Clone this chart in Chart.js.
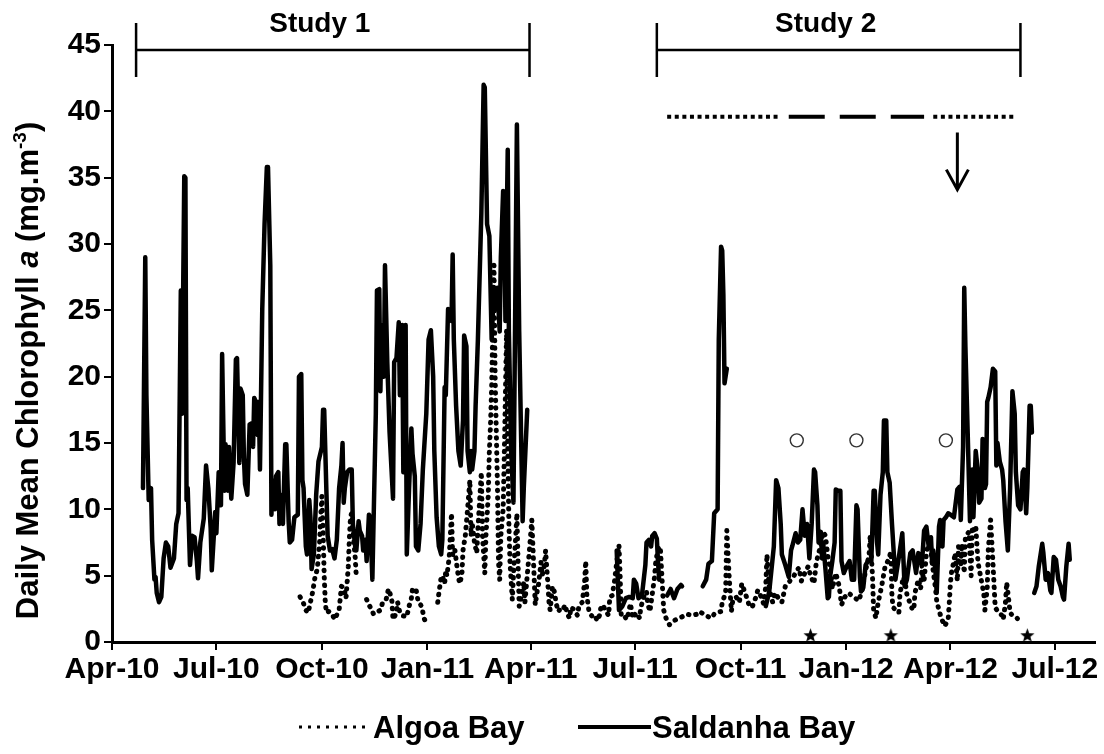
<!DOCTYPE html>
<html>
<head>
<meta charset="utf-8">
<title>Daily mean chlorophyll a - Algoa Bay and Saldanha Bay</title>
<script src="https://cdn.jsdelivr.net/npm/chart.js@4.4.1/dist/chart.umd.min.js"></script>
<style>
  html, body { margin: 0; padding: 0; background: #fff; }
  canvas { display: block; }
</style>
</head>
<body>
<canvas id="chl" width="1104" height="754"></canvas>
<script>
// x values are days since 1 Apr 2010
var tickDates = ['2010-04-01', '2010-07-01', '2010-10-01', '2011-01-01', '2011-04-01',
                 '2011-07-01', '2011-10-01', '2012-01-01', '2012-04-01', '2012-07-01'];
var tickLabels = ['Apr-10', 'Jul-10', 'Oct-10', 'Jan-11', 'Apr-11',
                  'Jul-11', 'Oct-11', 'Jan-12', 'Apr-12', 'Jul-12'];
var axisEndDate = '2012-08-05';

// Saldanha Bay, [day, chl a]
var saldanhaStudy1 = [
  [27,11.6],[29,29.0],[30,18.6],[32,10.7],[34,11.6],[35,7.7],[37,4.7],[38,4.9],[39,3.7],[41,3.0],
  [43,3.4],[45,6.3],[47,7.5],[49,7.2],[51,5.6],[54,6.3],[56,8.9],[58,9.7],[60,26.5],[61,17.2],
  [63,35.1],[64,35.0],[65,10.7],[66,11.6],[68,5.8],[70,8.0],[72,7.9],[74,6.1],[75,4.8],[77,7.5],
  [80,9.3],[82,13.3],[84,11.6],[86,8.6],[87,5.4],[90,9.8],[91,8.2],[93,12.8],[95,10.3],[96,21.7],
  [98,11.4],[99,14.9],[101,11.4],[102,14.7],[104,10.8],[106,13.5],[108,21.3],[109,21.4],[111,13.5],[112,19.1],
  [114,18.6],[115,13.9],[116,11.9],[118,11.1],[120,16.4],[122,16.5],[123,14.7],[124,18.4],[125,18.2],[127,15.6],
  [128,18.1],[129,13.0],[131,25.1],[133,31.5],[135,35.8],[136,35.8],[138,28.4],[139,9.6],[140,12.2],[142,10.0],
  [143,12.5],[145,12.8],[146,8.9],[148,11.1],[149,8.9],[151,14.9],[152,14.9],[154,9.1],[155,7.5],[157,7.7],
  [159,9.4],[162,9.6],[163,20.0],[165,20.2],[166,12.2],[167,11.6],[169,7.2],[170,6.6],[172,10.7],[173,9.4],
  [174,5.5],[176,6.6],[178,11.1],[180,13.6],[183,14.7],[184,17.5],[185,17.5],[187,11.1],[188,8.0],[190,6.9],
  [192,7.0],[194,6.3],[196,7.7],[198,11.6],[200,13.3],[201,15.0],[202,10.5],[203,11.6],[205,12.8],[207,13.0],
  [209,13.0],[210,8.9],[212,7.2],[213,6.9],[215,9.1],[216,8.4],[218,8.0],[219,6.9],[221,7.7],[222,6.1],
  [224,9.6],[225,9.4],[227,4.7],[230,17.2],[231,26.5],[233,26.6],[234,18.9],[235,23.9],[237,20.0],[238,28.4],
  [240,21.1],[242,15.8],[245,10.8],[246,21.1],[248,21.4],[250,24.1],[251,18.6],[253,23.9],[254,12.8],[256,23.9],
  [257,6.6],[259,11.6],[261,16.1],[262,14.2],[264,12.5],[265,7.2],[267,6.9],[269,8.9],[271,13.0],[274,17.2],
  [276,22.8],[278,23.5],[280,20.0],[281,14.4],[283,9.4],[285,7.2],[287,6.6],[288,7.7],[290,19.2],[291,18.6],
  [293,25.1],[294,24.5],[296,24.2],[297,29.2],[298,22.8],[300,17.8],[302,14.4],[304,13.3],[306,16.7],[307,23.1],
  [309,22.3],[310,14.4],[312,12.8],[313,14.4],[314,13.0],[316,14.4],[317,17.8],[319,22.8],[322,32.3],[324,42.0],
  [325,41.8],[327,31.5],[329,30.6],[331,22.8],[333,26.7],[335,25.1],[336,26.7],[338,23.4],[339,29.0],[341,34.0],
  [342,32.6],[343,24.2],[345,37.1],[346,23.4],[348,14.4],[350,10.5],[353,39.0],[355,23.4],[358,9.1],[359,11.6],
  [362,17.5]
];
var saldanhaJun11 = [
  [440,6.9],[442,2.4],[445,2.7],[448,3.3],[451,3.4],[454,3.3],[455,4.7],[457,4.4],[459,3.3],[462,3.5],
  [465,5.8],[466,7.5],[468,7.7],[470,7.2],[471,8.0],[473,8.2],[475,7.8],[476,6.1],[477,4.7]
];
var saldanhaAug11 = [[484,3.5],[487,4.0],[490,3.3],[493,4.0],[496,4.3],[497,4.2]];
var saldanhaSep11 = [
  [515,4.2],[518,4.7],[520,5.9],[523,6.1],[525,9.7],[528,10.0],[529,22.8],[531,29.8],[532,29.5],[533,26.2],
  [534,19.5],[536,20.6]
];
var saldanhaStudy2 = [
  [570,2.7],[573,3.8],[577,7.2],[579,12.2],[581,11.6],[583,8.9],[584,6.6],[587,5.8],[590,4.9],[592,6.9],
  [593,7.2],[596,8.2],[598,7.5],[600,7.7],[602,10.0],[604,8.0],[606,8.9],[608,6.3],[610,8.9],[612,13.0],
  [613,12.8],[615,10.3],[616,7.5],[618,8.3],[619,6.3],[620,7.5],[622,5.5],[624,3.3],[625,3.4],[626,4.9],
  [628,6.1],[630,7.5],[631,11.5],[633,11.4],[635,11.4],[636,6.1],[638,5.2],[641,5.8],[643,6.1],[645,4.7],
  [647,4.7],[649,10.3],[650,10.0],[652,4.9],[653,3.8],[655,4.1],[657,5.8],[659,6.1],[662,6.1],[664,11.4],
  [665,11.4],[667,7.5],[668,6.6],[670,11.1],[672,12.8],[673,16.7],[675,16.7],[676,12.8],[678,12.0],[680,8.9],
  [683,4.7],[686,6.4],[689,8.2],[691,4.2],[693,4.7],[696,6.7],[698,6.9],[701,5.2],[703,6.7],[705,6.4],
  [706,5.7],[708,8.4],[710,8.7],[712,7.2],[714,7.9],[715,5.9],[716,6.9],[718,5.2],[719,3.7],[721,8.7],
  [722,9.2],[724,7.2],[725,9.2],[727,9.4],[729,9.7],[731,9.6],[734,9.4],[737,11.5],[739,11.7],[740,9.2],
  [742,14.7],[743,26.7],[744,22.3],[746,15.8],[748,9.1],[750,13.0],[751,9.4],[753,14.4],[755,12.8],[756,10.5],
  [758,10.8],[759,15.3],[761,11.6],[762,11.9],[763,18.1],[764,18.4],[766,19.2],[768,20.6],[770,20.4],[771,13.3],
  [772,15.0],[774,13.6],[776,13.0],[777,12.2],[779,9.1],[781,6.9],[783,11.6],[785,18.9],[787,17.2],[788,12.8],
  [790,10.3],[792,10.0],[794,12.8],[795,13.0],[797,9.7],[798,11.6],[800,17.8],[801,17.8],[802,15.8]
];
var saldanhaJun12 = [
  [804,3.7],[806,4.2],[808,5.7],[811,7.4],[812,6.7],[814,4.7],[816,5.2],[818,3.9],[819,3.7],[821,6.4],
  [823,6.2],[825,4.7],[827,4.2],[829,3.4],[830,3.2],[832,5.7],[834,7.4],[835,6.2]
];

// Algoa Bay, [day, chl a]
var algoaSep10 = [
  [164,3.4],[165,3.2],[167,2.9],[169,2.4],[171,2.2],[173,3.0],[175,3.8],[177,4.9],[179,5.5],[181,7.5],
  [182,9.5],[183,11.0],[184,8.5],[185,5.0],[186,2.9],[187,2.2],[189,2.3],[192,2.1],[194,1.7],[198,2.4],
  [199,3.3],[200,4.2],[202,4.1],[204,3.3],[205,4.5],[206,5.7],[207,7.9],[208,9.5],[209,9.7],[210,8.4],
  [212,6.4],[213,4.9]
];
var algoaNov10 = [
  [222,3.2],[224,2.8],[226,2.5],[228,2.1],[230,2.2],[232,2.3],[234,2.4],[236,3.0],[239,3.2],[241,4.0],
  [242,3.8],[244,3.1],[245,1.7],[248,2.2],[249,3.0],[251,2.2],[253,2.0],[257,1.9],[259,2.7],[261,3.3],
  [262,4.0],[265,4.0],[266,3.5],[267,3.0],[270,2.7],[272,1.8],[273,1.6]
];
var algoaJan11 = [
  [284,3.0],[285,3.7],[287,4.9],[288,5.0],[290,4.4],[291,5.4],[292,5.0],[294,6.4],[296,9.7],[297,6.5],
  [299,6.9],[301,5.5],[303,4.4],[305,5.0],[306,6.9],[308,8.0],[310,10.0],[312,12.2],[313,8.0],[314,9.0],
  [316,7.5],[318,6.7],[319,8.5],[322,12.8],[323,8.0],[325,5.2],[326,8.0],[328,11.0],[329,14.4],[330,16.4],
  [331,19.2],[333,28.4],[334,20.0],[336,12.0],[337,6.0],[338,4.7],[339,8.0],[341,10.0],[342,14.0],[344,23.5],
  [345,15.0],[346,9.0],[347,6.0],[349,3.2],[350,5.0],[352,8.0],[353,9.7],[354,6.0],[355,2.7],[357,3.5],
  [359,4.5],[360,3.0],[362,5.0],[364,7.0],[366,9.2],[368,5.0],[369,2.8],[371,4.0],[372,4.4],[374,6.0],
  [375,5.0],[377,5.8],[378,6.9],[380,4.4],[381,3.0],[382,2.4],[384,4.2],[386,3.7],[387,3.0],[389,2.3],
  [391,2.5],[393,2.4],[395,2.8],[397,2.1],[399,1.8],[400,2.6],[402,2.5],[404,2.2],[406,2.0],[407,2.7],
  [410,3.0],[412,4.5],[413,6.1],[414,3.5],[416,2.2],[419,1.9],[421,2.0],[423,1.6],[425,2.0],[426,2.5],
  [428,2.8],[430,2.4],[433,2.0],[434,3.4],[436,3.5],[438,4.5],[440,6.0],[442,7.3],[443,5.0],[444,1.9],
  [447,1.9],[449,1.7],[452,2.9],[454,1.8],[457,2.2],[460,1.8],[461,2.6],[464,3.5],[466,3.8],[467,2.9],
  [469,2.3],[471,3.6],[473,4.9],[474,6.0],[476,7.0],[478,7.2],[480,4.0],[481,2.4],[483,1.8],[486,1.3],
  [488,1.5],[492,1.7],[497,1.9],[501,2.1],[506,2.0],[510,2.1],[512,2.3],[518,2.0],[522,1.8],[526,2.2],
  [531,2.3],[532,3.0],[535,3.7],[536,8.4],[538,5.0],[540,2.3],[541,3.0],[544,3.4],[547,3.0],[549,4.4],
  [552,3.7],[555,2.9],[558,2.6],[561,3.3],[563,3.9],[565,3.6],[568,2.9],[570,4.2],[571,6.6],[573,4.0],
  [576,3.0],[578,3.7],[581,3.3],[584,3.0],[587,4.2],[590,4.5],[594,4.9],[597,5.4],[599,5.6],[601,4.6],
  [604,5.2],[607,5.7],[609,5.0],[612,4.4],[614,6.0],[617,7.0],[620,8.3],[622,8.0],[624,6.5],[626,5.5],
  [628,4.0],[631,5.2],[634,4.2],[636,2.8],[639,3.4],[642,3.7],[645,3.5],[648,3.3],[651,3.1],[654,3.9],
  [657,5.4],[660,6.5],[661,8.0],[663,5.0],[664,2.4],[666,1.8],[668,3.0],[671,4.2],[674,5.7],[677,6.2],
  [679,6.8],[680,3.4],[681,2.6],[686,2.2],[687,3.7],[690,4.9],[692,4.2],[693,3.6],[695,3.1],[697,2.6],
  [699,2.4],[700,3.7],[703,4.7],[705,4.0],[706,5.4],[708,4.6],[710,6.7],[713,7.9],[715,6.0],[718,4.0],
  [719,3.1],[721,2.4],[723,1.8],[726,1.2],[729,1.7],[730,3.0],[731,4.5],[732,5.3],[734,6.1],[735,6.7],
  [737,4.6],[738,7.2],[740,5.7],[741,7.4],[743,5.2],[744,7.9],[747,8.3],[749,5.0],[750,8.7],[752,8.2],
  [753,8.8],[755,6.0],[758,4.6],[760,3.7],[761,2.4],[763,4.0],[764,7.0],[766,9.2],[768,6.0],[770,2.6],
  [773,2.2],[776,2.0],[777,1.7],[779,3.0],[780,4.5],[782,3.0],[783,2.2],[786,1.9],[789,1.8],[790,1.7]
];

// study periods and field events
var studyNames = ['Study 1', 'Study 2'];
var studyStarts = ['2010-04-22', '2011-07-20'];
var studyEnds = ['2011-03-31', '2012-06-01'];
var samplingDotted = [['2011-07-29', '2011-11-03'], ['2012-03-17', '2012-05-26']];
var samplingDashed = [['2011-11-12', '2012-03-09']];
var samplingLevel = 39.6;
var arrowDate = '2012-04-07';
var arrowFrom = 38.4;
var arrowTo = 34.1;
var circleDates = ['2011-11-19', '2012-01-10', '2012-03-28'];
var circleLevel = 15.2;
var starDates = ['2011-12-01', '2012-02-09', '2012-06-07'];
var starLevel = 0.55;

var FONT = '"Liberation Sans", Arial, Helvetica, sans-serif';

function toDay(iso) {
  var p = iso.split('-');
  return Math.round((Date.UTC(+p[0], p[1] - 1, +p[2]) - Date.UTC(2010, 3, 1)) / 864e5);
}

// glue segments together with a null point so the line breaks between them
function joinSegments(segs) {
  var out = [];
  segs.forEach(function (seg, i) {
    if (i > 0) {
      out.push({ x: (out[out.length - 1].x + seg[0][0]) / 2, y: null });
    }
    seg.forEach(function (p) { out.push({ x: p[0], y: p[1] }); });
  });
  return out;
}

function levelLine(pair) {
  return [{ x: toDay(pair[0]), y: samplingLevel }, { x: toDay(pair[1]), y: samplingLevel }];
}

function starImage(r) {
  var c = document.createElement('canvas');
  c.width = c.height = Math.ceil(2 * r + 2);
  var g = c.getContext('2d');
  g.fillStyle = '#000';
  g.beginPath();
  for (var i = 0; i < 10; i++) {
    var a = -Math.PI / 2 + i * Math.PI / 5;
    var rr = i % 2 ? r * 0.42 : r;
    g.lineTo(c.width / 2 + rr * Math.cos(a), c.height / 2 + 1 + rr * Math.sin(a));
  }
  g.closePath();
  g.fill();
  return c;
}

var tickDays = tickDates.map(toDay);

var datasets = [
  {
    data: joinSegments([saldanhaStudy1, saldanhaJun11, saldanhaAug11, saldanhaSep11, saldanhaStudy2, saldanhaJun12]),
    borderColor: '#000', borderWidth: 4.5, borderJoinStyle: 'round', borderCapStyle: 'round',
    pointRadius: 0, spanGaps: false
  },
  {
    data: joinSegments([algoaSep10, algoaNov10, algoaJan11]),
    borderColor: '#000', borderWidth: 5, borderDash: [0.5, 7], borderCapStyle: 'round',
    borderJoinStyle: 'round', pointRadius: 0, spanGaps: false
  }
];

samplingDotted.forEach(function (pair) {
  datasets.push({
    data: levelLine(pair), borderColor: '#000', borderWidth: 4,
    borderDash: [4, 3.6], borderCapStyle: 'butt', pointRadius: 0, clip: false
  });
});
samplingDashed.forEach(function (pair) {
  datasets.push({
    data: levelLine(pair), borderColor: '#000', borderWidth: 4,
    borderDash: [36, 15], borderCapStyle: 'butt', pointRadius: 0, clip: false
  });
});

datasets.push({
  data: circleDates.map(function (d) { return { x: toDay(d), y: circleLevel }; }),
  showLine: false, pointStyle: 'circle', pointRadius: 6.5, pointBorderWidth: 1.4,
  pointBorderColor: '#333', pointBackgroundColor: 'rgba(255,255,255,0)', clip: false
});
datasets.push({
  data: starDates.map(function (d) { return { x: toDay(d), y: starLevel }; }),
  showLine: false, pointStyle: starImage(7.5), pointRadius: 8, clip: false
});

// brackets, arrow, axis title and legend
var notes = {
  id: 'notes',
  afterDatasetsDraw: function (chart) {
    var ctx = chart.ctx, xs = chart.scales.x, ys = chart.scales.y;
    ctx.save();
    ctx.strokeStyle = '#000';
    ctx.fillStyle = '#000';

    // study brackets
    ctx.lineWidth = 2.5;
    var by = 50;
    studyNames.forEach(function (name, i) {
      var x1 = xs.getPixelForValue(toDay(studyStarts[i]));
      var x2 = xs.getPixelForValue(toDay(studyEnds[i]));
      ctx.beginPath();
      ctx.moveTo(x1, by); ctx.lineTo(x2, by);
      ctx.moveTo(x1, by - 27); ctx.lineTo(x1, by + 27);
      ctx.moveTo(x2, by - 27); ctx.lineTo(x2, by + 27);
      ctx.stroke();
      ctx.font = 'bold 28px ' + FONT;
      ctx.textAlign = 'center';
      ctx.textBaseline = 'alphabetic';
      ctx.fillText(name, (x1 + x2) / 2 - 13, 32);
    });

    // arrow
    var ax = xs.getPixelForValue(toDay(arrowDate));
    var ay1 = ys.getPixelForValue(arrowFrom), ay2 = ys.getPixelForValue(arrowTo);
    ctx.lineWidth = 3;
    ctx.beginPath();
    ctx.moveTo(ax, ay1); ctx.lineTo(ax, ay2);
    ctx.moveTo(ax - 11, ay2 - 20); ctx.lineTo(ax, ay2); ctx.lineTo(ax + 11, ay2 - 20);
    ctx.stroke();
    ctx.restore();
  },
  afterDraw: function (chart) {
    var ctx = chart.ctx, area = chart.chartArea;
    ctx.save();
    ctx.fillStyle = '#000';
    ctx.strokeStyle = '#000';

    // y axis title, mixed styles
    var parts = [
      { t: 'Daily Mean Chlorophyll ', f: 'bold 31px ' + FONT, dy: 0 },
      { t: 'a', f: 'italic bold 31px ' + FONT, dy: 0 },
      { t: ' (mg.m', f: 'bold 31px ' + FONT, dy: 0 },
      { t: '-3', f: 'bold 19px ' + FONT, dy: -12 },
      { t: ')', f: 'bold 31px ' + FONT, dy: 0 }
    ];
    var total = 0;
    parts.forEach(function (p) { ctx.font = p.f; p.w = ctx.measureText(p.t).width; total += p.w; });
    ctx.translate(38, (area.top + area.bottom) / 2 + 27);
    ctx.rotate(-Math.PI / 2);
    ctx.textBaseline = 'alphabetic';
    ctx.textAlign = 'left';
    var cx = -total / 2;
    parts.forEach(function (p) { ctx.font = p.f; ctx.fillText(p.t, cx, p.dy); cx += p.w; });
    ctx.setTransform(1, 0, 0, 1, 0, 0);

    // legend
    var ly = 727;
    ctx.lineWidth = 3;
    ctx.setLineDash([3, 6]);
    ctx.beginPath(); ctx.moveTo(299, ly); ctx.lineTo(367, ly); ctx.stroke();
    ctx.setLineDash([]);
    ctx.lineWidth = 4;
    ctx.beginPath(); ctx.moveTo(578, ly); ctx.lineTo(651, ly); ctx.stroke();
    ctx.font = 'bold 31px ' + FONT;
    ctx.textAlign = 'left';
    ctx.textBaseline = 'alphabetic';
    ctx.fillText('Algoa Bay', 373, 738);
    ctx.fillText('Saldanha Bay', 652, 738);
    ctx.restore();
  }
};

Chart.defaults.font.family = FONT;
Chart.defaults.color = '#000';

new Chart(document.getElementById('chl'), {
  type: 'line',
  data: { datasets: datasets },
  options: {
    responsive: false,
    animation: false,
    devicePixelRatio: 1,
    events: [],
    layout: { padding: { top: 45, right: 2, bottom: 0, left: 0 } },
    plugins: { legend: { display: false }, tooltip: { enabled: false } },
    scales: {
      x: {
        type: 'linear',
        min: 0,
        max: toDay(axisEndDate),
        afterBuildTicks: function (s) { s.ticks = tickDays.map(function (v) { return { value: v }; }); },
        afterFit: function (s) { s.height = 112; },
        ticks: {
          autoSkip: false, maxRotation: 0, minRotation: 0, padding: 2, color: '#000',
          font: { size: 30, weight: 'bold' },
          callback: function (v, i) { return tickLabels[i]; }
        },
        grid: { drawOnChartArea: false, drawTicks: true, tickLength: 8, color: '#000', lineWidth: 2 },
        border: { color: '#000', width: 3 }
      },
      y: {
        min: 0,
        max: 45,
        afterFit: function (s) { s.width = 112; },
        ticks: { stepSize: 5, padding: 3, color: '#000', font: { size: 30, weight: 'bold' } },
        grid: { drawOnChartArea: false, drawTicks: true, tickLength: 8, color: '#000', lineWidth: 2 },
        border: { color: '#000', width: 3 }
      }
    }
  },
  plugins: [notes]
});
</script>
</body>
</html>
